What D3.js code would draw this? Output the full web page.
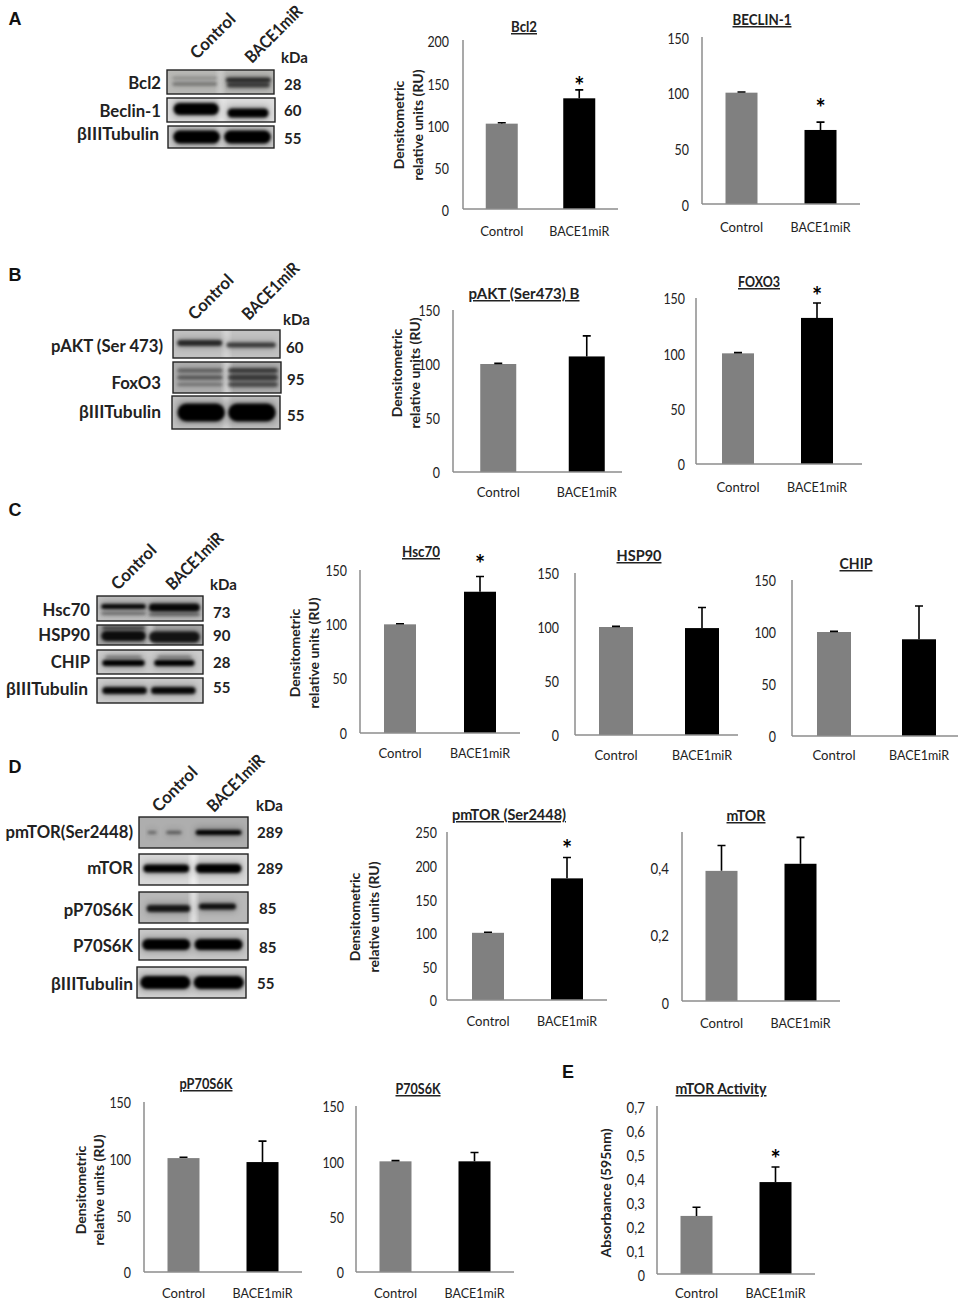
<!DOCTYPE html>
<html><head><meta charset="utf-8">
<script src="https://cdn.jsdelivr.net/npm/d3@7/dist/d3.min.js"></script>
<style>
html,body{margin:0;padding:0;background:#fff}
svg{display:block}
text{font-family:Lato,"Open Sans",sans-serif;fill:#222}
</style></head><body>
<svg id="c" width="962" height="1300"></svg>
<script>
// ---------- data ----------
const categories = ["Control","BACE1miR"];
const bcl2Values = [101,131], bcl2Err = [1,10];
const beclinValues = [100,66.5], beclinErr = [0.6,7];
const paktValues = [100,107], paktErr = [0.6,19];
const foxo3Values = [100,132], foxo3Err = [0.6,13.5];
const hsc70Values = [100,130], hsc70Err = [0.6,14];
const hsp90Values = [100,99], hsp90Err = [0.6,19];
const chipValues = [100,93], chipErr = [0.6,32];
const pmtorValues = [100,181], pmtorErr = [0.8,31];
const mtorValues = [0.385,0.406], mtorErr = [0.075,0.078];
const pp70Values = [100.5,97], pp70Err = [0.8,18.5];
const p70Values = [100,100], p70Err = [0.6,8];
const activityValues = [0.242,0.383], activityErr = [0.036,0.063];
const ticks150 = [0,50,100,150], ticks200 = [0,50,100,150,200], ticks250=[0,50,100,150,200,250];
const ticksMtor = [0,0.2,0.4], ticksActivity = [0,0.1,0.2,0.3,0.4,0.5,0.6,0.7];
const barColors = ["#808080","#000000"];
const ru = ["Densitometric","relative units (RU)"];
const categoryLabelWidths = [43,60];

// ---------- layout of each chart ----------
const charts = [
 {title:"Bcl2",tl:26,v:bcl2Values,e:bcl2Err,t:ticks200,max:200,x0:463,x1:618,y0:209,y1:40,tx:524,ty:27,bw:32,star:82,yl:ru,ylx:[399,418],yly:125,lab:20,pad:14,dy:2},
 {title:"BECLIN-1",tl:59,v:beclinValues,e:beclinErr,t:ticks150,max:150,x0:702,x1:860,y0:204,y1:37,tx:762,ty:20,bw:32,star:104,lab:21,pad:13,dy:1.5},
 {title:"pAKT (Ser473) B",tl:111,v:paktValues,e:paktErr,t:ticks150,max:150,x0:453,x1:622,band:[454,631],y0:472,y1:310,tx:524,ty:294,bw:36,yl:ru,ylx:[397,415],yly:373,lab:18,pad:13,dy:.5},
 {title:"FOXO3",tl:42,v:foxo3Values,e:foxo3Err,t:ticks150,max:150,x0:696,x1:862,band:[698.5,856.5],y0:464,y1:298,tx:759,ty:282,bw:32,star:292,lab:21,pad:11,dy:1},
 {title:"Hsc70",tl:38,v:hsc70Values,e:hsc70Err,t:ticks150,max:150,x0:360,x1:520,y0:733,y1:570,tx:421,ty:552,bw:32,star:560,yl:ru,ylx:[295,314],yly:653,lab:18,pad:13,dy:.5},
 {title:"HSP90",tl:45,v:hsp90Values,e:hsp90Err,t:ticks150,max:150,x0:575,x1:738,band:[573,745],y0:735,y1:573,tx:639,ty:556,bw:34,lab:18,pad:16,dy:1},
 {title:"CHIP",tl:33,v:chipValues,e:chipErr,t:ticks150,max:150,x0:792,x1:958,band:[791.5,961.5],y0:736,y1:580,tx:856,ty:564,bw:34,lab:17,pad:16,dy:1},
 {title:"pmTOR (Ser2448)",tl:114,v:pmtorValues,e:pmtorErr,t:ticks250,max:250,x0:447,x1:607,band:[448.5,606.5],y0:1000,y1:832,tx:509,ty:815,bw:32,star:845,yl:ru,ylx:[355,374],yly:917,lab:19,pad:10,dy:1},
 {title:"mTOR",tl:39,v:mtorValues,e:mtorErr,t:ticksMtor,max:0.5,x0:682,x1:840,y0:1001,y1:832,tx:746,ty:816,bw:32,lab:20,pad:13,dy:2.5,comma:1},
 {title:"pP70S6K",tl:53,v:pp70Values,e:pp70Err,t:ticks150,max:150,x0:144,x1:302,y0:1272,y1:1102,tx:206,ty:1084,bw:32,yl:ru,ylx:[81,99],yly:1190,lab:19,pad:13,dy:1},
 {title:"P70S6K",tl:45,v:p70Values,e:p70Err,t:ticks150,max:150,x0:356,x1:514,y0:1272,y1:1106,tx:418,ty:1089,bw:32,lab:19,pad:12,dy:1},
 {title:"mTOR Activity",tl:91,v:activityValues,e:activityErr,t:ticksActivity,max:0.7,x0:657,x1:815,y0:1274,y1:1106,tx:721,ty:1089,bw:32,star:1155,yl:["Absorbance (595nm)"],ylx:[606],yly:1193,lab:17,pad:12,dy:1.5,comma:1}
];

// ---------- western-blot panels ----------
// band tuple: lane centre, lane width, thickness, darkness, vertical offset (fractions / px of the strip)
const blots = [
 {head:[[197,60],[252,64]],kda:[281,58],rows:[
  {n:"Bcl2",f:[167,70,107,24],lx:161,ly:83,k:"28",kx:284,ky:84,bg:"#b9b9b6",gap:.25,b:[[.26,.42,2.5,.2,-4],[.26,.42,4,.28,2],[.76,.42,5,.7,-2],[.76,.40,5,.6,3]]},
  {n:"Beclin-1",f:[167,98,108,24],lx:161,ly:111,k:"60",kx:284,ky:110,bg:"#dddddd",gap:.3,b:[[.27,.42,12,1,-1],[.75,.38,9,1,3]]},
  {n:"βIIITubulin",f:[168,126,106,22],lx:159,ly:134,k:"55",kx:284,ky:138,bg:"#cdcdcd",gap:.3,b:[[.27,.44,13,1],[.75,.44,13,1]]}]},
 {head:[[195,321],[249,321]],kda:[283,320],rows:[
  {n:"pAKT (Ser 473)",f:[173,330,107,28],lx:163,ly:346,k:"60",kx:286,ky:347,bg:"#c2c2c2",gap:.3,b:[[.25,.42,6,.75,-1],[.73,.46,5,.65,1]]},
  {n:"FoxO3",f:[173,362,108,31],lx:161,ly:383,k:"95",kx:287,ky:379,bg:"#b0b0b0",gap:.5,b:[[.25,.42,4,.45],[.25,.42,4,.4,-7],[.25,.42,3,.3,7],[.74,.46,6,.6],[.74,.46,5,.6,-7],[.74,.46,5,.5,7]]},
  {n:"βIIITubulin",f:[172,396,108,33],lx:161,ly:412,k:"55",kx:287,ky:415,bg:"#c2c2c2",gap:.3,b:[[.27,.44,18,1],[.74,.44,18,1]]}]},
 {head:[[118,591],[173,591]],kda:[210,585],rows:[
  {n:"Hsc70",f:[97,596,106,25],lx:90,ly:610,k:"73",kx:213,ky:612,bg:"#bfbfbf",b:[[.25,.42,5,.95,-2],[.25,.42,3,.35,5],[.73,.48,8,.95,-1],[.73,.48,3,.4,6]]},
  {n:"HSP90",f:[97,625,106,20],lx:90,ly:635,k:"90",kx:213,ky:635,bg:"#a8a8a8",gap:.5,b:[[.25,.42,10,.9,1],[.25,.4,3,.6,-7],[.73,.48,11,.85,2]]},
  {n:"CHIP",f:[97,650,106,24],lx:90,ly:662,k:"28",kx:213,ky:662,bg:"#cbcbcb",b:[[.25,.40,6,1,1],[.25,.34,3,.3,-5],[.73,.38,6,1,1],[.73,.32,3,.3,-5]]},
  {n:"βIIITubulin",f:[97,678,106,25],lx:88,ly:689,k:"55",kx:213,ky:687,bg:"#cbcbcb",b:[[.26,.42,7,.95],[.72,.42,7,.95]]}]},
 {head:[[159,813],[214,813]],kda:[256,806],rows:[
  {n:"pmTOR(Ser2448)",f:[139,817,109,31],lx:133,ly:832,k:"289",kx:257,ky:832,bg:"#aeaeae",b:[[.12,.08,2,.5],[.32,.14,3,.45],[.73,.42,5,1]]},
  {n:"mTOR",f:[139,854,109,31],lx:133,ly:868,k:"289",kx:257,ky:868,bg:"#d8d8d8",gap:.6,b:[[.25,.42,8,1,-1],[.73,.42,9,1,-1]]},
  {n:"pP70S6K",f:[139,892,109,31],lx:133,ly:910,k:"85",kx:259,ky:908,bg:"#b8b8b8",gap:.6,b:[[.27,.40,7,.85,1],[.72,.34,6,.9,-1]]},
  {n:"P70S6K",f:[139,929,109,31],lx:133,ly:946,k:"85",kx:259,ky:947,bg:"#c8c8c8",b:[[.25,.44,11,1],[.73,.44,11,1]]},
  {n:"βIIITubulin",f:[137,967,109,31],lx:133,ly:984,k:"55",kx:257,ky:983,bg:"#d2d2d2",b:[[.26,.46,13,1],[.75,.46,13,1]]}]}
];
const letters = [["A",15,25],["B",15,281],["C",15,516],["D",15,773],["E",568,1078]];
const tubulinLabelWidth = 82;
const headerLabelWidths = [56,73];

// ---------- draw ----------
const svg = d3.select("#c");
const defs = svg.append("defs");
[["bl",1.5],["halo",3.5],["gapb",2]].forEach(([id,s])=>
 defs.append("filter").attr("id",id).attr("x","-30%").attr("y","-100%").attr("width","160%").attr("height","300%")
  .append("feGaussianBlur").attr("stdDeviation",s));

letters.forEach(([t,x,y])=>svg.append("text").attr("x",x).attr("y",y).attr("text-anchor","middle")
  .style("font-family","'Liberation Sans'").style("font-weight",700).style("font-size","18px").style("fill","#111").text(t));

blots.forEach((bl,bi)=>{
  const g = svg.append("g");
  bl.head.forEach((h,i)=>g.append("text").attr("transform",`translate(${h[0]},${h[1]}) rotate(-45)`)
     .style("font-weight",700).style("font-size","17px").attr("textLength",headerLabelWidths[i]).attr("lengthAdjust","spacingAndGlyphs").text(categories[i]));
  g.append("text").attr("x",bl.kda[0]).attr("y",bl.kda[1]+5).style("font-weight",700).style("font-size","15px").text("kDa");
  bl.rows.forEach((r,ri)=>{
    const [x,y,w,h]=r.f, cid=`cp${bi}_${ri}`;
    defs.append("clipPath").attr("id",cid).append("rect").attr("x",x).attr("y",y).attr("width",w).attr("height",h);
    const sx=d3.scaleLinear().domain([0,1]).range([x,x+w]);
    const gg=g.append("g");
    gg.append("rect").attr("x",x).attr("y",y).attr("width",w).attr("height",h).attr("fill",r.bg);
    const inner=gg.append("g").attr("clip-path",`url(#${cid})`);
    if(r.gap) inner.append("rect").attr("x",sx(.47)).attr("width",sx(.06)-sx(0)).attr("y",y-6).attr("height",h+12)
      .attr("fill","#fff").attr("opacity",r.gap).attr("filter","url(#gapb)");
    inner.selectAll("rect.h").data(r.b).join("rect").attr("class","h")
      .attr("filter","url(#halo)")
      .attr("x",d=>sx(d[0]-d[1]/2)).attr("width",d=>sx(d[1])-sx(0))
      .attr("y",d=>y+h/2-d[2]/2-2+(d[4]||0)).attr("height",d=>d[2]+4)
      .attr("fill","#000").attr("opacity",d=>d[3]*.28);
    inner.selectAll("rect.b").data(r.b).join("rect").attr("class","b")
      .attr("filter","url(#bl)")
      .attr("x",d=>sx(d[0]-d[1]/2)).attr("width",d=>sx(d[1])-sx(0))
      .attr("y",d=>y+h/2-d[2]/2+(d[4]||0)).attr("height",d=>d[2])
      .attr("rx",d=>d[2]/2).attr("fill","#050505").attr("opacity",d=>d[3]);
    gg.append("rect").attr("x",x).attr("y",y).attr("width",w).attr("height",h)
      .attr("fill","none").attr("stroke","#222").attr("stroke-width",1.4);
    const lt=g.append("text").attr("x",r.lx).attr("y",r.ly+6).attr("text-anchor","end")
      .style("font-weight",700).style("font-size","16.7px").text(r.n);
    if(r.n.startsWith("β")) lt.attr("textLength",tubulinLabelWidth).attr("lengthAdjust","spacingAndGlyphs");
    g.append("text").attr("x",r.kx).attr("y",r.ky+6)
      .style("font-weight",700).style("font-size","15px").text(r.k);
  });
});

charts.forEach(c=>{
  const g = svg.append("g");
  const x = d3.scaleBand().domain(categories).range(c.band||[c.x0,c.x1]);
  const y = d3.scaleLinear().domain([0,c.max]).range([c.y0,c.y1]);
  const fmt = c.comma ? (d=>String(d).replace(".",",")) : String;
  const cx=i=>x(categories[i])+x.bandwidth()/2;
  g.selectAll("rect.bar").data(c.v).join("rect").attr("class","bar")
    .attr("x",(d,i)=>cx(i)-c.bw/2).attr("width",c.bw)
    .attr("y",d=>y(d)).attr("height",d=>y(0)-y(d)).attr("fill",(d,i)=>barColors[i]);
  g.selectAll("path.err").data(c.v).join("path").attr("class","err")
    .attr("d",(d,i)=>`M${cx(i)},${y(d)}V${y(d+c.e[i])}M${cx(i)-4},${y(d+c.e[i])}H${cx(i)+4}`)
    .attr("fill","none").attr("stroke","#000").attr("stroke-width",1.6);
  const ya=g.append("g").attr("transform",`translate(${c.x0},${c.dy})`)
    .call(d3.axisLeft(y).tickValues(c.t).tickFormat(fmt).tickSize(0).tickPadding(c.pad));
  ya.select("path").remove();
  const yLine=g.append("line").attr("x1",c.x0).attr("x2",c.x0).attr("y1",y(c.max)).attr("y2",c.y0);
  const xa=g.append("g").attr("transform",`translate(0,${c.y0})`)
    .call(d3.axisBottom(x).tickSize(0).tickPadding(c.lab-3));
  xa.select("path").remove();
  const xLine=g.append("line").attr("x1",c.x0).attr("x2",c.x1).attr("y1",c.y0).attr("y2",c.y0);
  [yLine,xLine].forEach(l=>l.attr("stroke","#8c8c8c").attr("stroke-width",1.5));
  [ya,xa].forEach(a=>a.selectAll("text").style("font-family","Lato").style("fill","#222"));
  ya.selectAll("text").style("font-size","15px")
    .attr("textLength",d=>{const s=fmt(d);return s.replace(",","").length*7.2+(s.includes(",")?4:0);})
    .attr("lengthAdjust","spacingAndGlyphs");
  xa.selectAll("text").style("font-size","14px")
    .attr("textLength",(d,i)=>categoryLabelWidths[i]).attr("lengthAdjust","spacingAndGlyphs");
  g.append("text").attr("x",c.tx).attr("y",c.ty+5).attr("text-anchor","middle")
    .attr("textLength",c.tl).attr("lengthAdjust","spacingAndGlyphs")
    .style("font-weight",700).style("font-size","15px").style("text-decoration","underline").text(c.title);
  if(c.star) g.append("text").attr("x",cx(1)).attr("y",c.star+13).attr("text-anchor","middle")
    .style("font-weight",700).style("font-size","24px").style("fill","#000").text("*");
  if(c.yl) c.yl.forEach((t,i)=>g.append("text").attr("transform",`translate(${c.ylx[i]+5},${c.yly}) rotate(-90)`)
    .attr("text-anchor","middle").style("font-weight",700).style("font-size","14px").text(t));
});
</script>
</body></html>
